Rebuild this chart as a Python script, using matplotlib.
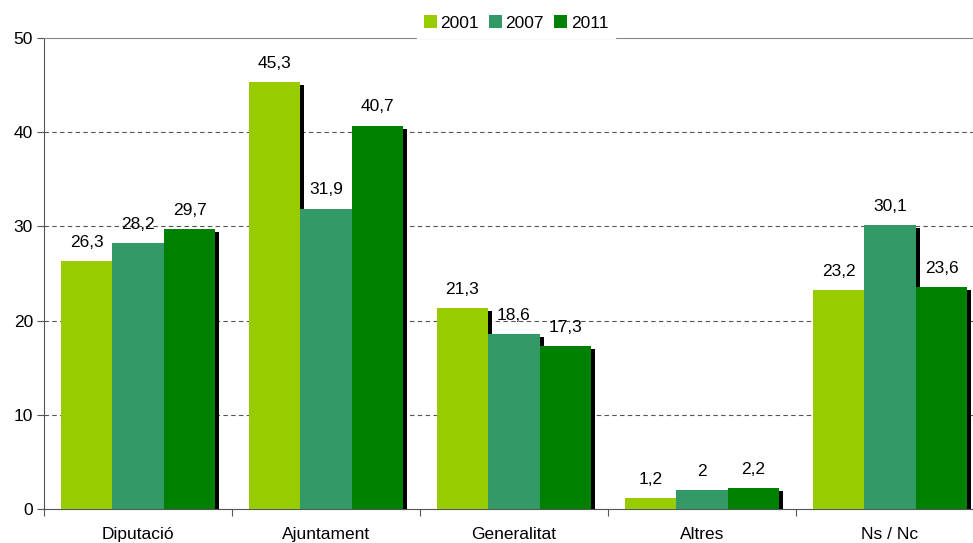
import matplotlib
matplotlib.use("Agg")
import matplotlib.pyplot as plt
import numpy as np

categories = ["Diputació", "Ajuntament", "Generalitat", "Altres", "Ns / Nc"]
series_names = ["2001", "2007", "2011"]
v2001 = [26.3, 45.3, 21.3, 1.2, 23.2]
v2007 = [28.2, 31.9, 18.6, 2.0, 30.1]
v2011 = [29.7, 40.7, 17.3, 2.2, 23.6]
colors = ["#99CC00", "#339966", "#008000"]

plt.rcParams['font.family'] = ['Liberation Sans', 'DejaVu Sans']
FS = 12.5

W, H = 973, 543
fig = plt.figure(figsize=(W / 100, H / 100), dpi=100)
left, right, top, bottom = 44, 984, 38, 509
ax = fig.add_axes([left / W, 1 - bottom / H, (right - left) / W, (bottom - top) / H])

x = np.arange(len(categories))
bw = 51.5 / 188
data = [v2001, v2007, v2011]
# shadows
sdx = 4 / 188
sdy = 3 / 9.42
for i, vals in enumerate(data):
    xs = x + (i - 1) * bw + sdx
    ax.bar(xs, [v - sdy for v in vals], width=bw, color="black", zorder=2)
for i, vals in enumerate(data):
    xs = x + (i - 1) * bw
    ax.bar(xs, vals, width=bw, color=colors[i], label=series_names[i], zorder=3)
    for xx, v in zip(xs, vals):
        s = ("%g" % v).replace(".", ",")
        ax.annotate(s, (xx, v), xytext=(0, 8), textcoords="offset points",
                    ha="center", va="bottom", fontsize=FS, color="black", zorder=4)

ax.set_xlim(-0.5, len(categories) - 0.5)
ax.set_ylim(0, 50)
ax.set_yticks([0, 10, 20, 30, 40, 50])
ax.set_xticks(np.arange(len(categories) + 1) - 0.5, minor=False)
ax.set_xticklabels([])
ax.tick_params(axis="x", which="major", length=5, color="#555555")
ax.set_xticks(x, minor=True)
ax.set_xticklabels(categories, minor=True)
ax.tick_params(axis="x", which="minor", length=0, pad=13, labelsize=FS)
ax.tick_params(axis="y", length=5, color="#555555", labelsize=FS, pad=3)
for yv in [10, 20, 30, 40]:
    ax.axhline(yv, color="#555555", lw=0.8, ls=(0, (4, 3)), zorder=1)
ax.spines["left"].set_color("#555555")
ax.spines["bottom"].set_color("#555555")
ax.spines["top"].set_color("#888888")
ax.spines["right"].set_visible(False)

leg = ax.legend(loc="center", bbox_to_anchor=(516 / W, 1 - 23 / H), bbox_transform=fig.transFigure,
                ncol=3, frameon=True, fancybox=False, edgecolor="white", facecolor="white",
                framealpha=1, fontsize=FS, handlelength=0.75, handleheight=0.75,
                handletextpad=0.2, columnspacing=0.6, borderpad=0.4)
leg.set_zorder(10)

fig.savefig("out.png", dpi=100)
